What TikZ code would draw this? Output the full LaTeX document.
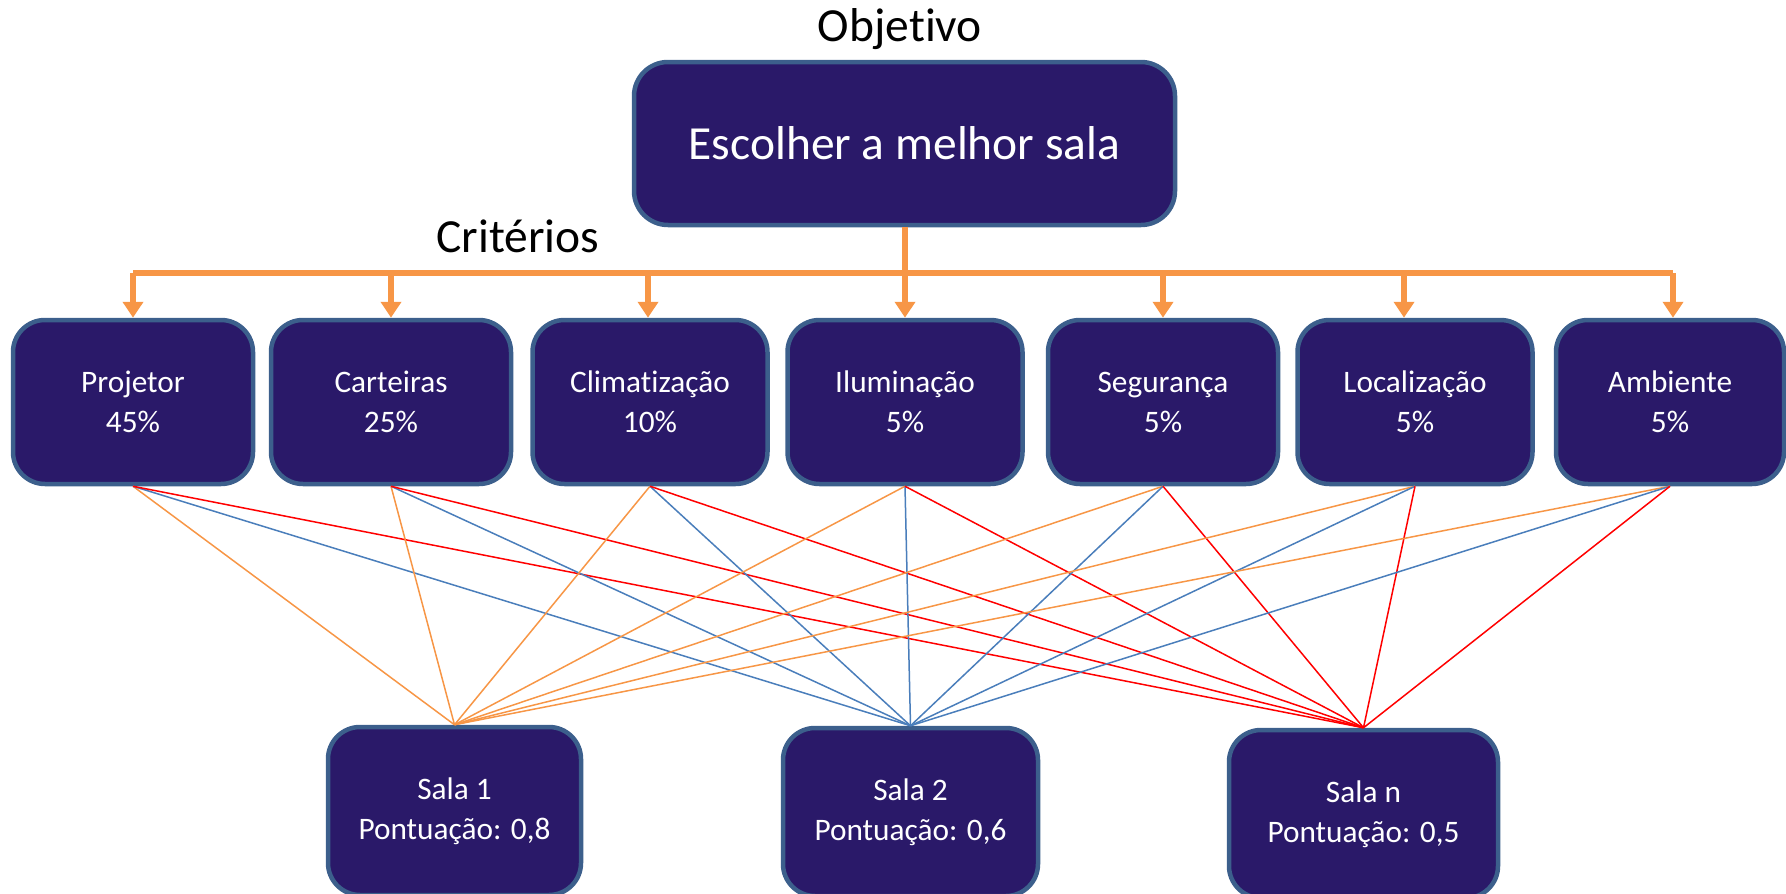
\documentclass[tikz,border=0pt]{standalone}
\usepackage{fontspec}
\setmainfont[Ligatures=NoCommon]{Carlito}
\usetikzlibrary{arrows.meta}
\definecolor{boxfill}{RGB}{42,25,105}
\definecolor{boxedge}{RGB}{60,95,140}
\definecolor{orng}{RGB}{247,150,70}
\definecolor{blu}{RGB}{74,126,187}
\definecolor{rd}{RGB}{255,0,0}
\tikzset{
  box/.style={draw=boxedge, fill=boxfill, line width=4.5pt, rounded corners=32pt,
    text=white, align=center, inner sep=0pt, minimum height=164pt,
    font=\fontsize{31.3}{40}\selectfont},
  bigtxt/.style={font=\fontsize{47.5}{56}\selectfont, inner sep=0pt},
  bus/.style={draw=orng, line width=6pt},
  busarrow/.style={draw=orng, line width=6pt, -{Triangle[width=20pt,length=16pt]}},
  toA/.style={draw=orng, line width=1.5pt},
  toB/.style={draw=blu, line width=1.5pt},
  toC/.style={draw=rd, line width=1.5pt}
}
\begin{document}
\begin{tikzpicture}[x=1pt,y=-1pt]
\useasboundingbox (0,0) rectangle (1786,894);
% title texts
\node[bigtxt] (objlabel) at (900,29) {Objetivo};
\node[bigtxt] (critlabel) at (518,236) {Critérios};
% objective
\node[box, minimum width=541pt, minimum height=163pt, rounded corners=34pt,
      font=\fontsize{47.5}{56}\selectfont] (obj) at (904.5,143.5) {Escolher a melhor sala};
% criteria
\node[box, minimum width=240pt] (c1) at (133,402) {Projetor\\45\%};
\node[box, minimum width=240pt] (c2) at (391,402) {Carteiras\\25\%};
\node[box, minimum width=235pt] (c3) at (650,402) {Climatização\\10\%};
\node[box, minimum width=235pt] (c4) at (905,402) {Iluminação\\5\%};
\node[box, minimum width=230pt] (c5) at (1163,402) {Segurança\\5\%};
\node[box, minimum width=235pt] (c6) at (1415,402) {Localização\\5\%};
\node[box, minimum width=228pt] (c7) at (1670,402) {Ambiente\\5\%};
% rooms
\node[box, minimum width=253pt, minimum height=168pt] (s1) at (454.5,811) {Sala 1\\Pontuação: 0,8};
\node[box, minimum width=255pt, minimum height=168pt] (s2) at (910.5,812) {Sala 2\\Pontuação: 0,6};
\node[box, minimum width=269pt, minimum height=168pt] (s3) at (1363.5,814) {Sala n\\Pontuação: 0,5};
% orange tree
\coordinate (busy) at (905,273);
\draw[bus] (obj.south) -- (obj.south |- busy);
\draw[bus] (c1.north |- busy) -- ([xshift=3pt]c7.north |- busy);
\draw[busarrow] (c1.north |- busy) -- (c1.north);
\draw[busarrow] (c2.north |- busy) -- (c2.north);
\draw[busarrow] ([xshift=-2pt]c3.north |- busy) -- ([xshift=-2pt]c3.north);
\draw[busarrow] (c4.north |- busy) -- (c4.north);
\draw[busarrow] (c5.north |- busy) -- (c5.north);
\draw[busarrow] ([xshift=-11pt]c6.north |- busy) -- ([xshift=-11pt]c6.north);
\draw[busarrow] ([xshift=3pt]c7.north |- busy) -- ([xshift=3pt]c7.north);
% connections
\foreach \c in {c1,c2,c3,c4,c5,c6,c7}{
  \draw[toA] (\c.south) -- (s1.north);
  \draw[toB] (\c.south) -- (s2.north);
  \draw[toC] (\c.south) -- (s3.north);
}
\end{tikzpicture}
\end{document}
